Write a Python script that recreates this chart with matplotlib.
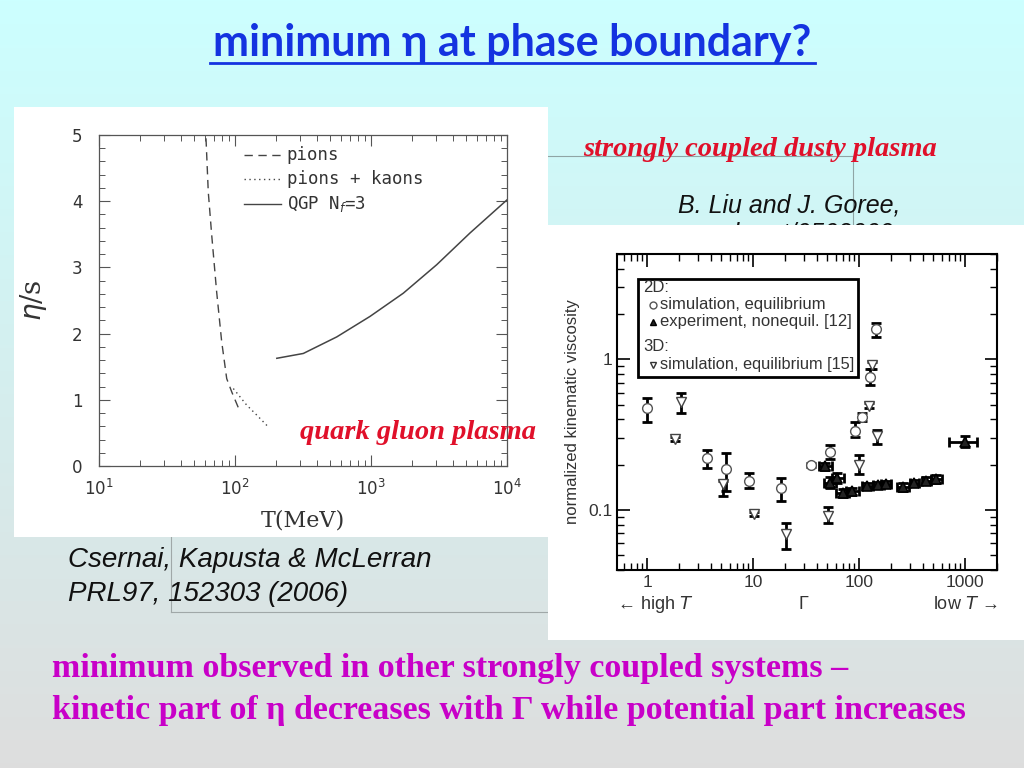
import numpy as np
import matplotlib
matplotlib.use('Agg')
import matplotlib.pyplot as plt
from matplotlib.patches import Rectangle
from matplotlib.ticker import LogLocator, FuncFormatter, MultipleLocator, NullFormatter

# ---------------- data: left chart (eta/s vs T) ----------------
T_pions = [61.2, 63.6, 67.4, 73.3, 79.8, 86.9, 94.6, 108.9]
eta_pions = [4.95, 4.14, 3.49, 2.63, 1.88, 1.32, 1.12, 0.82]
T_pk = [97.2, 121.9, 144.4, 175.8]
eta_pk = [1.17, 0.92, 0.77, 0.59]
T_qgp = [203, 318, 560, 984, 1727, 3040, 5346, 10000]
eta_qgp = [1.627, 1.70, 1.95, 2.26, 2.61, 3.04, 3.52, 4.02]
left_legend = ["pions", "pions + kaons", "QGP N$_f$=3"]

# ---------------- data: right chart (viscosity vs Gamma) ----------------
G_circ = [1.0, 3.67, 5.54, 9.06, 18.3, 35.0, 53.2, 90.8, 107, 126.5, 143]
v_circ = [0.474, 0.221, 0.187, 0.156, 0.139, 0.199, 0.241, 0.336, 0.413, 0.762, 1.585]
v_circ_lo = [0.382, 0.190, 0.133, 0.139, 0.114, 0.192, 0.218, 0.303, 0.390, 0.678, 1.41]
v_circ_hi = [0.555, 0.251, 0.238, 0.177, 0.163, 0.206, 0.270, 0.382, 0.440, 0.866, 1.73]

G_down = [1.85, 2.09, 5.15, 10.2, 20.3, 51.3, 99.7, 124, 131, 148]
v_down = [0.296, 0.52, 0.148, 0.094, 0.069, 0.091, 0.200, 0.493, 0.912, 0.308]
v_down_lo = [0.285, 0.439, 0.123, 0.091, 0.055, 0.082, 0.173, 0.475, 0.860, 0.274]
v_down_hi = [0.307, 0.597, 0.156, 0.097, 0.082, 0.104, 0.232, 0.510, 0.960, 0.341]

G_up = [48, 53, 62, 70, 85, 120, 150, 180, 260, 330, 430, 530, 1007]
G_up_lo = [42, 47, 55, 60, 75, 107, 135, 160, 230, 300, 390, 480, 702]
G_up_hi = [56, 60, 72, 80, 100, 135, 170, 198, 295, 370, 480, 600, 1297]
v_up = [0.195, 0.152, 0.163, 0.130, 0.133, 0.145, 0.147, 0.148, 0.142, 0.152, 0.157, 0.160, 0.281]
v_up_lo = [0.185, 0.140, 0.152, 0.122, 0.126, 0.139, 0.141, 0.142, 0.134, 0.146, 0.150, 0.152, 0.260]
v_up_hi = [0.205, 0.165, 0.175, 0.138, 0.140, 0.152, 0.154, 0.155, 0.150, 0.158, 0.165, 0.170, 0.308]

W, H = 1024, 768
fig = plt.figure(figsize=(W / 100, H / 100), dpi=100)

# ---------------- background layer ----------------
bg = fig.add_axes([0, 0, 1, 1], zorder=-10)
bg.set_xlim(0, W)
bg.set_ylim(H, 0)
bg.axis('off')
yy = np.linspace(0, 1, 256)[:, None]
top = np.array([0.80, 1.0, 1.0])
bot = np.array([0.87, 0.87, 0.87])
grad = top[None, None, :] * (1 - yy[..., None]) + bot[None, None, :] * yy[..., None]
grad = np.repeat(grad, 2, axis=1)
bg.imshow(grad, extent=[0, W, H, 0], aspect='auto', zorder=0)

# thin grey box lines
bg.plot([548, 853], [156, 156], color='#8fa5a5', lw=0.8, zorder=1)
bg.plot([853, 853], [156, 225], color='#8fa5a5', lw=0.8, zorder=1)
bg.plot([171, 171], [537, 612], color='#a0a8a8', lw=0.8, zorder=1)
bg.plot([171, 548], [612, 612], color='#a0a8a8', lw=0.8, zorder=1)

# title
bg.text(512, 43, "minimum η at phase boundary?", ha='center', va='center',
        fontsize=31, fontweight='bold', color='#1433E0',
        family=['Lato', 'DejaVu Sans'], zorder=2)
bg.plot([210, 815], [63, 63], color='#1433E0', lw=2, zorder=2)

# right side texts
bg.text(760, 150, "strongly coupled dusty plasma", ha='center', va='center',
        fontsize=20.5, fontweight='bold', style='italic', color='#E0102A',
        family=['Liberation Serif', 'DejaVu Serif'], zorder=2)
bg.text(789, 205, "B. Liu and J. Goree,", ha='center', va='center',
        fontsize=18, style='italic', color='#111111',
        family=['Liberation Sans', 'DejaVu Sans'], zorder=2)
bg.text(789, 234, "cond-mat/0502009", ha='center', va='center',
        fontsize=18, style='italic', color='#111111',
        family=['Liberation Sans', 'DejaVu Sans'], zorder=2)

# white panels
bg.add_patch(Rectangle((14, 107), 534, 430, facecolor='white', edgecolor='none', zorder=3))
bg.add_patch(Rectangle((548, 225), 476, 415, facecolor='white', edgecolor='none', zorder=3))

# caption
bg.text(68, 560, "Csernai, Kapusta & McLerran", ha='left', va='center',
        fontsize=20, style='italic', color='#111111',
        family=['Liberation Sans', 'DejaVu Sans'], zorder=4)
bg.text(68, 594, "PRL97, 152303 (2006)", ha='left', va='center',
        fontsize=20, style='italic', color='#111111',
        family=['Liberation Sans', 'DejaVu Sans'], zorder=4)

# bottom text
bg.text(52, 668, "minimum observed in other strongly coupled systems –", ha='left', va='center',
        fontsize=24.5, fontweight='bold', color='#C800C8',
        family=['Liberation Serif', 'DejaVu Serif'], zorder=4)
bg.text(52, 711, "kinetic part of η decreases with Γ while potential part increases", ha='left', va='center',
        fontsize=24.5, fontweight='bold', color='#C800C8',
        family=['Liberation Serif', 'DejaVu Serif'], zorder=4)

# ---------------- left chart ----------------
lx0, lx1, ly0, ly1 = 99, 507, 135, 466
axL = fig.add_axes([lx0 / W, 1 - ly1 / H, (lx1 - lx0) / W, (ly1 - ly0) / H], zorder=1)
axL.set_facecolor('white')
axL.set_xscale('log')
axL.set_xlim(10, 1e4)
axL.set_ylim(0, 5)
axL.plot(T_pions, eta_pions, color='#444444', lw=1.0, ls=(0, (6, 4)))
axL.plot(T_pk, eta_pk, color='#444444', lw=1.0, ls=(0, (1, 2.5)))
axL.plot(T_qgp, eta_qgp, color='#444444', lw=1.1, ls='-')
axL.yaxis.set_major_locator(MultipleLocator(1))
axL.yaxis.set_minor_locator(MultipleLocator(0.2))
axL.xaxis.set_major_locator(LogLocator(base=10))
axL.xaxis.set_minor_locator(LogLocator(base=10, subs=np.arange(2, 10)))
axL.xaxis.set_minor_formatter(NullFormatter())
axL.tick_params(which='both', direction='in', top=True, right=True, color='#555555',
                labelcolor='#333333', labelsize=12)
axL.tick_params(axis='x', which='major', pad=9)
axL.tick_params(axis='y', which='major', pad=12)
axL.tick_params(which='major', length=8, width=0.8)
axL.tick_params(which='minor', length=4, width=0.7)
for s in axL.spines.values():
    s.set_color('#555555')
    s.set_linewidth(0.9)
axL.set_xlabel("T(MeV)", fontsize=16, color='#333333', family='DejaVu Serif', labelpad=8)
axL.set_ylabel(r"$\eta$/s", fontsize=20, color='#333333', family='DejaVu Serif', labelpad=16)
# legend (manual)
ly = [0.94, 0.866, 0.792]
styles = [(0, (6, 4)), (0, (1, 2.5)), '-']
for yv, st, lab in zip(ly, styles, left_legend):
    axL.plot([0.355, 0.447], [yv, yv], transform=axL.transAxes, color='#444444', lw=1.0, ls=st)
    axL.text(0.46, yv, lab, transform=axL.transAxes, ha='left', va='center',
             fontsize=12.5, color='#333333', family='DejaVu Sans Mono')
axL.text(1.07, 0.1, "quark gluon plasma", transform=axL.transAxes, ha='right', va='center',
         fontsize=20.5, fontweight='bold', style='italic', color='#E0102A',
         family=['Liberation Serif', 'DejaVu Serif'], clip_on=False, zorder=10)

# ---------------- right chart ----------------
rx0, rx1, ry0, ry1 = 617, 997, 254, 570
axR = fig.add_axes([rx0 / W, 1 - ry1 / H, (rx1 - rx0) / W, (ry1 - ry0) / H], zorder=1)
axR.set_facecolor('white')
axR.set_xscale('log')
axR.set_yscale('log')
axR.set_xlim(0.52, 2000)
axR.set_ylim(0.04, 5)

ekw = dict(fmt='none', ecolor='black', elinewidth=2.0, capsize=3.8, capthick=2.0, zorder=2)
axR.errorbar(G_up, v_up,
             xerr=[np.subtract(G_up, G_up_lo), np.subtract(G_up_hi, G_up)],
             yerr=[np.subtract(v_up, v_up_lo), np.subtract(v_up_hi, v_up)], **ekw)
axR.errorbar(G_circ, v_circ,
             yerr=[np.subtract(v_circ, v_circ_lo), np.subtract(v_circ_hi, v_circ)], **ekw)
axR.errorbar(G_down, v_down,
             yerr=[np.subtract(v_down, v_down_lo), np.subtract(v_down_hi, v_down)], **ekw)
axR.plot(G_up, v_up, ls='none', marker='^', ms=6.5, mfc='#222222', mec='black', mew=1.2, zorder=3)
axR.plot(G_circ, v_circ, ls='none', marker='o', ms=7, mfc='white', mec='#555555', mew=1.0, zorder=3)
axR.plot(G_down, v_down, ls='none', marker='v', ms=7.5, mfc='white', mec='#444444', mew=1.0, zorder=3)

axR.xaxis.set_major_locator(LogLocator(base=10))
axR.xaxis.set_minor_locator(LogLocator(base=10, subs=np.arange(2, 10)))
axR.yaxis.set_major_locator(LogLocator(base=10))
axR.yaxis.set_minor_locator(LogLocator(base=10, subs=np.arange(2, 10)))
fmt = FuncFormatter(lambda v, p: '%g' % v)
axR.xaxis.set_major_formatter(fmt)
axR.yaxis.set_major_formatter(fmt)
axR.xaxis.set_minor_formatter(NullFormatter())
axR.yaxis.set_minor_formatter(NullFormatter())
axR.tick_params(which='both', direction='in', top=True, right=True, color='black',
                labelcolor='#333333', labelsize=12.5)
axR.tick_params(which='major', length=9, width=1.2)
axR.tick_params(which='minor', length=5, width=1.0)
for lab in axR.get_xticklabels() + axR.get_yticklabels():
    lab.set_family('Liberation Sans')
for s in axR.spines.values():
    s.set_color('black')
    s.set_linewidth(1.5)
axR.set_ylabel("normalized kinematic viscosity", fontsize=12, color='#333333',
               family='Liberation Sans', labelpad=6)
lfam = ['Liberation Sans', 'DejaVu Sans']
axR.text(0.0, -0.11, "← high $T$", transform=axR.transAxes, ha='left', va='center',
         fontsize=13, color='#333333', family=lfam)
axR.text(0.49, -0.11, "Γ", transform=axR.transAxes, ha='center', va='center',
         fontsize=13, color='#333333', family=lfam)
axR.text(1.0, -0.11, "low $T$ →", transform=axR.transAxes, ha='right', va='center',
         fontsize=13, color='#333333', family=lfam)

# legend box (manual)
axR.add_patch(Rectangle((0.055, 0.61), 0.58, 0.31, transform=axR.transAxes,
                        facecolor='white', edgecolor='black', lw=2, zorder=4))
axR.text(0.068, 0.893, "2D:", transform=axR.transAxes, fontsize=12, color='#333333',
         family=lfam, va='center', zorder=5)
axR.plot([0.095], [0.839], transform=axR.transAxes, marker='o', ms=5, mfc='white',
         mec='#555555', zorder=5, clip_on=False)
axR.text(0.113, 0.839, "simulation, equilibrium", transform=axR.transAxes, fontsize=12,
         color='#333333', family=lfam, va='center', zorder=5)
axR.plot([0.095], [0.786], transform=axR.transAxes, marker='^', ms=5, mfc='#222222',
         mec='black', zorder=5, clip_on=False)
axR.text(0.113, 0.786, "experiment, nonequil. [12]", transform=axR.transAxes, fontsize=12,
         color='#333333', family=lfam, va='center', zorder=5)
axR.text(0.068, 0.707, "3D:", transform=axR.transAxes, fontsize=12, color='#333333',
         family=lfam, va='center', zorder=5)
axR.plot([0.095], [0.649], transform=axR.transAxes, marker='v', ms=5, mfc='white',
         mec='#333333', zorder=5, clip_on=False)
axR.text(0.113, 0.649, "simulation, equilibrium [15]", transform=axR.transAxes, fontsize=11.8,
         color='#333333', family=lfam, va='center', zorder=5)

fig.savefig('out.png', dpi=100)
